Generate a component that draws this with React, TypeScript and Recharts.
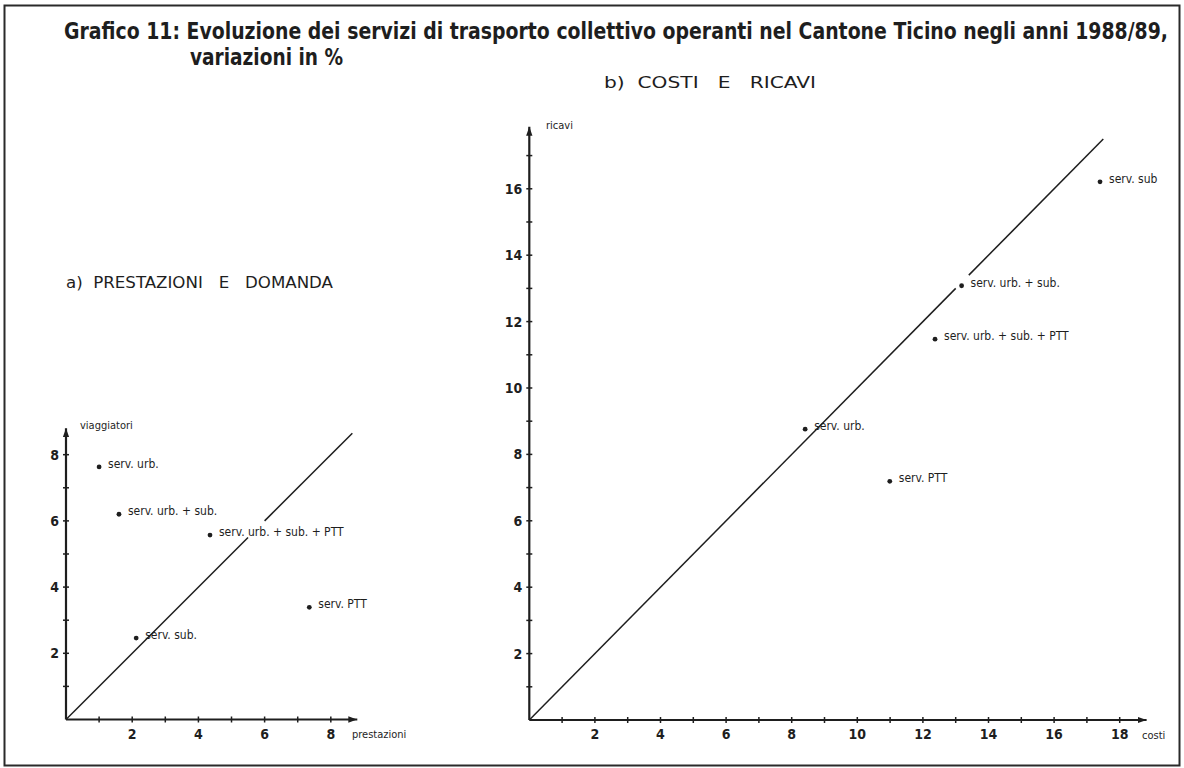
import React from 'react';
import { ScatterChart, Scatter, XAxis, YAxis, LabelList, ReferenceLine } from 'recharts';

// a) prestazioni e domanda (variazioni in %)
const servicesA = ['serv. urb.', 'serv. urb. + sub.', 'serv. urb. + sub. + PTT', 'serv. PTT', 'serv.  sub.'];
const prestazioni = [1.0, 1.6, 4.35, 7.35, 2.12];
const viaggiatori = [7.63, 6.2, 5.57, 3.39, 2.46];

// b) costi e ricavi (variazioni in %)
const servicesB = ['serv. sub', 'serv. urb. + sub.', 'serv. urb. + sub. + PTT', 'serv. urb.', 'serv. PTT'];
const costi = [17.4, 13.18, 12.37, 8.41, 10.99];
const ricavi = [16.21, 13.08, 11.47, 8.76, 7.19];

// bisettrice (y = x), interrotta dove passa un'etichetta: [da, a]
const diagA = [[0, 5.5], [6.0, 8.65]];
const diagB = [[0, 13.0], [13.4, 17.5]];

const ticksA = [1, 2, 3, 4, 5, 6, 7, 8];
const ticksBx = [1, 2, 3, 4, 5, 6, 7, 8, 9, 10, 11, 12, 13, 14, 15, 16, 17, 18];
const ticksBy = [1, 2, 3, 4, 5, 6, 7, 8, 9, 10, 11, 12, 13, 14, 15, 16, 17];

const INK = '#1e1e1e';
const NARROW = "'Liberation Sans Narrow', 'DejaVu Sans Condensed', 'Arial Narrow', sans-serif";

const dataA = servicesA.map((name, i) => ({ name, x: prestazioni[i], y: viaggiatori[i] }));
const dataB = servicesB.map((name, i) => ({ name, x: costi[i], y: ricavi[i] }));

const XTick = ({ x, y, payload }: any) => (
  <g>
    <line x1={x} x2={x} y1={y - 3} y2={y + 3} stroke={INK} strokeWidth={1.5} />
    {payload.value % 2 === 0 && (
      <text x={x} y={y + 19} textAnchor="middle" fontSize={14} fontWeight="bold" fontFamily={NARROW} fill={INK}>
        {payload.value}
      </text>
    )}
  </g>
);

const YTick = ({ x, y, payload }: any) => (
  <g>
    <line x1={x - 3} x2={x + 3} y1={y} y2={y} stroke={INK} strokeWidth={1.5} />
    {payload.value % 2 === 0 && (
      <text x={x - 7} y={y + 5} textAnchor="end" fontSize={14} fontWeight="bold" fontFamily={NARROW} fill={INK}>
        {payload.value}
      </text>
    )}
  </g>
);

const Dot = (p: any) => <circle cx={p.cx} cy={p.cy} r={2.4} fill={INK} />;

const PointLabel = ({ x, y, width, height, value }: any) => (
  <text x={x + width / 2 + 9} y={y + height / 2 + 1} fontSize={12} fontFamily={NARROW} fill={INK}>
    {value}
  </text>
);

const ArrowDefs = ({ id }: { id: string }) => (
  <defs>
    <marker id={id} viewBox="0 0 10 10" refX="10" refY="5" markerWidth="9" markerHeight="9"
      markerUnits="userSpaceOnUse" orient="auto-start-reverse">
      <path d="M0,1.5 L10,5 L0,8.5 z" fill={INK} />
    </marker>
  </defs>
);

const PanelA = () => (
  <div style={{ position: 'absolute', left: 0, top: 380 }}>
    <ScatterChart width={440} height={388} margin={{ top: 48.2, right: 82.7, bottom: 18.5, left: 26 }}>
      <ArrowDefs id="arrowA" />
      <XAxis type="number" dataKey="x" domain={[0, 8.8]} ticks={ticksA} interval={0} height={30}
        tickSize={0} tickMargin={0} tick={<XTick />} allowDataOverflow
        axisLine={{ stroke: INK, strokeWidth: 2.2, markerEnd: 'url(#arrowA)' }} />
      <YAxis type="number" dataKey="y" domain={[0, 8.8]} ticks={ticksA} interval={0} width={40}
        tickSize={0} tickMargin={0} tick={<YTick />} allowDataOverflow
        axisLine={{ stroke: INK, strokeWidth: 2.2, markerStart: 'url(#arrowA)' }} />
      {diagA.map(([a, b], i) => (
        <ReferenceLine key={i} segment={[{ x: a, y: a }, { x: b, y: b }]} stroke={INK} strokeWidth={1.5} ifOverflow="visible" />
      ))}
      <Scatter data={dataA} shape={Dot} isAnimationActive={false}>
        <LabelList dataKey="name" content={<PointLabel />} />
      </Scatter>
    </ScatterChart>
  </div>
);

const PanelB = () => (
  <div style={{ position: 'absolute', left: 470, top: 90 }}>
    <ScatterChart width={714} height={678} margin={{ top: 36.7, right: 37.4, bottom: 18, left: 19.3 }}>
      <ArrowDefs id="arrowB" />
      <XAxis type="number" dataKey="x" domain={[0, 18.82]} ticks={ticksBx} interval={0} height={30}
        tickSize={0} tickMargin={0} tick={<XTick />} allowDataOverflow
        axisLine={{ stroke: INK, strokeWidth: 2.2, markerEnd: 'url(#arrowB)' }} />
      <YAxis type="number" dataKey="y" domain={[0, 17.87]} ticks={ticksBy} interval={0} width={40}
        tickSize={0} tickMargin={0} tick={<YTick />} allowDataOverflow
        axisLine={{ stroke: INK, strokeWidth: 2.2, markerStart: 'url(#arrowB)' }} />
      {diagB.map(([a, b], i) => (
        <ReferenceLine key={i} segment={[{ x: a, y: a }, { x: b, y: b }]} stroke={INK} strokeWidth={1.5} ifOverflow="visible" />
      ))}
      <Scatter data={dataB} shape={Dot} isAnimationActive={false}>
        <LabelList dataKey="name" content={<PointLabel />} />
      </Scatter>
    </ScatterChart>
  </div>
);

export default function App() {
  return (
    <div style={{ position: 'absolute', left: 0, top: 0, width: 1184, height: 768, background: '#fff' }}>
      <svg width={1184} height={768} style={{ position: 'absolute', left: 0, top: 0 }}>
        <rect x={4.5} y={5.5} width={1175} height={760} fill="none" stroke="#2a2a2a" strokeWidth={2} />
        <g fontFamily={NARROW} fill={INK}>
          <g transform="translate(64,39) scale(1,1.22)">
            <text x={0} y={0} fontSize={19} fontWeight="bold" textLength={1104} lengthAdjust="spacingAndGlyphs">
              Grafico 11: Evoluzione dei servizi di trasporto collettivo operanti nel Cantone Ticino negli anni 1988/89,
            </text>
          </g>
          <g transform="translate(190,65) scale(1,1.22)">
            <text x={0} y={0} fontSize={19} fontWeight="bold" textLength={153} lengthAdjust="spacingAndGlyphs">
              variazioni in %
            </text>
          </g>
          <text x={604} y={88} fontSize={15} textLength={212} lengthAdjust="spacingAndGlyphs" xmlSpace="preserve">
            b)  COSTI   E   RICAVI
          </text>
          <text x={66} y={288} fontSize={15} textLength={267} lengthAdjust="spacingAndGlyphs" xmlSpace="preserve">
            a)  PRESTAZIONI   E   DOMANDA
          </text>
          <text x={80} y={429} fontSize={11}>viaggiatori</text>
          <text x={352} y={738} fontSize={11}>prestazioni</text>
          <text x={546} y={129} fontSize={11}>ricavi</text>
          <text x={1142} y={739} fontSize={11}>costi</text>
        </g>
      </svg>
      <PanelA />
      <PanelB />
    </div>
  );
}
